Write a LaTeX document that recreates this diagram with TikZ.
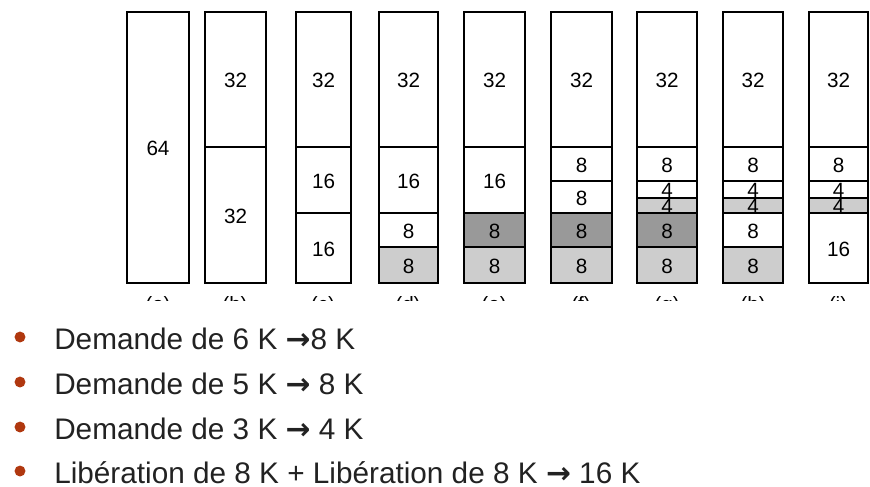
\documentclass[tikz,border=0pt]{standalone}
\usepackage{fontspec}
\setmainfont{Liberation Sans}
\newfontfamily\arrowfont{DejaVu Sans}
\usetikzlibrary{positioning}
\definecolor{ink}{HTML}{222222}
\definecolor{lightfill}{HTML}{CDCDCD}
\definecolor{darkfill}{HTML}{999999}
\definecolor{rust}{HTML}{B0380F}
\tikzset{
  block/.style={draw=black, line width=1.3pt},
  size/.style={font=\fontsize{15.5}{17}\selectfont, inner sep=0pt},
  item/.style={anchor=base west, inner sep=0pt, text=ink, font=\fontsize{22.3}{26}\selectfont},
  bullet/.style={circle, fill=rust, inner sep=0pt, minimum size=8.2pt}
}
\newcommand{\harrow}{{\arrowfont\bfseries →}}

\begin{document}
\begin{tikzpicture}[x=0.75pt, y=-0.75pt]
  \useasboundingbox (0,0) rectangle (870,486);
  % the nine states of the buddy memory
  \foreach \name/\xl/\xr/\cells in {
    a/127/189/{12/283/white/64},
    b/205/266/{12/147/white/32, 147/283/white/32},
    c/296/351/{12/147/white/32, 147/213/white/16, 213/283/white/16},
    d/379/438/{12/147/white/32, 147/213/white/16, 213/247/white/8, 247/283/lightfill/8},
    e/464/525/{12/147/white/32, 147/213/white/16, 213/247/darkfill/8, 247/283/lightfill/8},
    f/551/612/{12/147/white/32, 147/181/white/8, 181/213/white/8, 213/247/darkfill/8, 247/283/lightfill/8},
    g/637/697/{12/147/white/32, 147/181/white/8, 181/198/white/4, 198/213/lightfill/4, 213/247/darkfill/8, 247/283/lightfill/8},
    h/723/783/{12/147/white/32, 147/181/white/8, 181/198/white/4, 198/213/lightfill/4, 213/247/white/8, 247/283/lightfill/8},
    i/809/868/{12/147/white/32, 147/181/white/8, 181/198/white/4, 198/213/lightfill/4, 213/283/white/16}} {
    \foreach \yt/\yb/\c/\t [count=\k] in \cells {
      \draw[block, fill=\c] (\xl,\yt) rectangle (\xr,\yb);
      \node[size] (\name\k) at ({(\xl+\xr)/2},{(\yt+\yb)/2+1}) {\t};
    }
  }
  % captions, cut off by the frame
  \begin{scope}
    \clip (0,0) rectangle (870,300);
    \foreach \name/\x in {a/158, b/235, c/323, d/408, e/494, f/581, g/667, h/753, i/838}
      \node[size, anchor=north] (cap\name) at (\x,296) {(\name)};
  \end{scope}
  % list of requests
  \node[bullet] (dot1) at (20,337) {};
  \node[bullet] (dot2) at (20,382) {};
  \node[bullet] (dot3) at (20,427) {};
  \node[bullet] (dot4) at (20,471) {};
  \node[item] (line1) at (54,349) {Demande de 6 K \harrow8 K};
  \node[item] (line2) at (54,394) {Demande de 5 K \harrow{} 8 K};
  \node[item] (line3) at (54,439) {Demande de 3 K \harrow{} 4 K};
  \node[item] (line4) at (54,483) {Libération de 8 K + Libération de 8 K \harrow{} 16 K};
\end{tikzpicture}
\end{document}
